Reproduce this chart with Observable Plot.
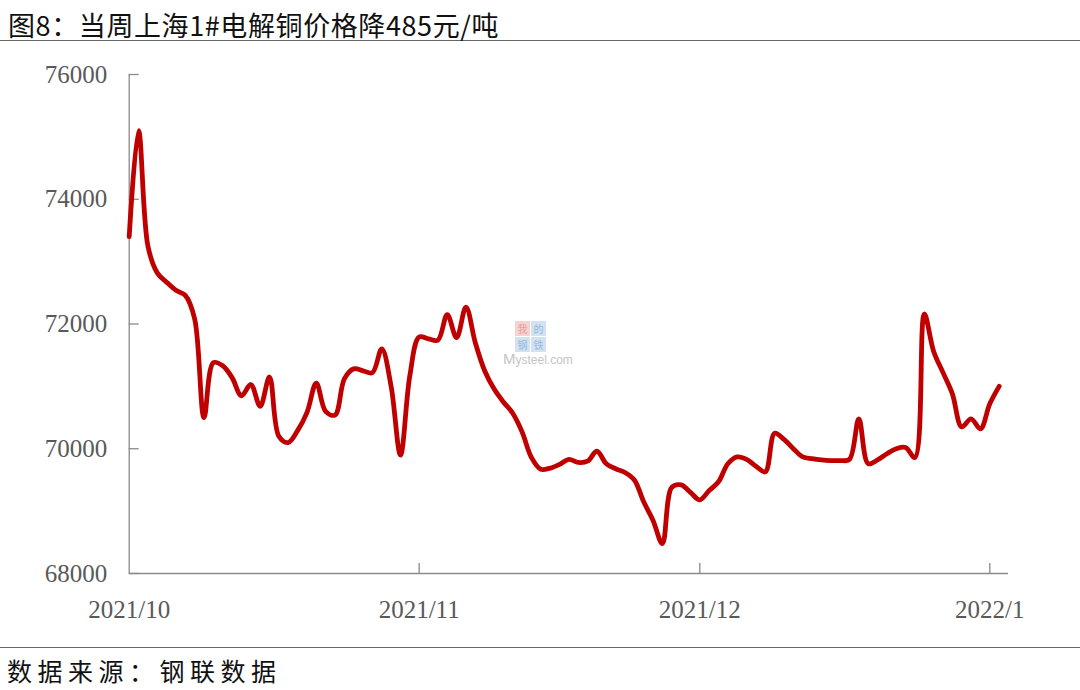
<!DOCTYPE html>
<html>
<head>
<meta charset="utf-8">
<script src="https://cdn.jsdelivr.net/npm/d3@7"></script>
<script src="https://cdn.jsdelivr.net/npm/@observablehq/plot@0.6"></script>
<style>
  html, body { margin: 0; padding: 0; background: #fff; }
  #page { position: relative; width: 1080px; height: 690px; overflow: hidden; background: #fff; }
  #title { position: absolute; left: 0; top: 0; width: 1080px; height: 41px; border-bottom: 1.5px solid #666;
           font-family: "Noto Sans CJK SC", sans-serif; font-size: 27px; line-height: 49px; color: #111;
           padding-left: 8px; box-sizing: border-box; letter-spacing: 0.6px; white-space: nowrap; }
  #chart { position: absolute; left: 0; top: 43px; }
  #footer { position: absolute; left: 0; top: 647px; width: 1080px; height: 43px; border-top: 1.5px solid #666;
            font-family: "Noto Sans CJK SC", sans-serif; font-size: 25px; line-height: 44px; color: #111;
            padding-left: 7px; box-sizing: border-box; letter-spacing: 5.5px; white-space: nowrap; }
  .wm { position: absolute; font-family: "Noto Sans CJK SC", sans-serif; font-size: 10px; line-height: 15px;
        width: 15px; height: 15px; text-align: center; }
  #wmtext { position: absolute; left: 503px; top: 351px; font-family: "Liberation Sans", Arial, sans-serif;
            font-size: 12px; line-height: 15px; color: #c4c4c4; white-space: nowrap; }
</style>
</head>
<body>
<div id="page">
  <div id="title">图8：当周上海1#电解铜价格降485元/吨</div>
  <div id="chart"></div>
  <div class="wm" style="left:515px;top:321px;background:#f6d3d3;color:#ee9a9a;">我</div>
  <div class="wm" style="left:531px;top:321px;background:#d3e2f2;color:#95b8de;">的</div>
  <div class="wm" style="left:515px;top:337px;background:#d3e2f2;color:#95b8de;">钢</div>
  <div class="wm" style="left:531px;top:337px;background:#d3e2f2;color:#95b8de;">铁</div>
  <div id="wmtext"><span style="font-size:15px">M</span>ysteel.com</div>
  <div id="footer">数据来源：钢联数据</div>
</div>
<script>
// ---- data ----
const dates = [
  "2021-10-01","2021-10-02","2021-10-03","2021-10-04","2021-10-05","2021-10-06","2021-10-07","2021-10-08",
  "2021-10-09","2021-10-10","2021-10-11","2021-10-12","2021-10-13","2021-10-14","2021-10-15","2021-10-16",
  "2021-10-17","2021-10-18","2021-10-19","2021-10-20","2021-10-21","2021-10-22","2021-10-23","2021-10-24",
  "2021-10-25","2021-10-26","2021-10-27","2021-10-28","2021-10-29","2021-10-30","2021-10-31",
  "2021-11-01","2021-11-02","2021-11-03","2021-11-04","2021-11-05","2021-11-06","2021-11-07","2021-11-08",
  "2021-11-09","2021-11-10","2021-11-11","2021-11-12","2021-11-13","2021-11-14","2021-11-15","2021-11-16",
  "2021-11-17","2021-11-18","2021-11-19","2021-11-20","2021-11-21","2021-11-22","2021-11-23","2021-11-24",
  "2021-11-25","2021-11-26","2021-11-27","2021-11-28","2021-11-29","2021-11-30",
  "2021-12-01","2021-12-02","2021-12-03","2021-12-04","2021-12-05","2021-12-06","2021-12-07","2021-12-08",
  "2021-12-09","2021-12-10","2021-12-11","2021-12-12","2021-12-13","2021-12-14","2021-12-15","2021-12-16",
  "2021-12-17","2021-12-18","2021-12-19","2021-12-20","2021-12-21","2021-12-22","2021-12-23","2021-12-24",
  "2021-12-25","2021-12-26","2021-12-27","2021-12-28","2021-12-29","2021-12-30","2021-12-31",
  "2022-01-01","2022-01-02"
];
const prices = [
  73400,75100,73250,72820,72670,72540,72460,72080,
  70500,71380,71330,71140,70850,71030,70680,71150,
  70200,70100,70290,70580,71050,70600,70540,71120,
  71280,71250,71220,71600,71000,69900,71170,
  71790,71760,71740,72150,71780,72270,71700,71250,
  70960,70750,70570,70270,69860,69670,69690,69750,
  69830,69780,69800,69960,69760,69680,69620,69500,
  69150,68850,68480,69380,69420,69300,
  69180,69330,69470,69760,69870,69830,69720,69630,
  70250,70150,70000,69870,69840,69820,69810,69810,
  69830,70480,69760,69820,69920,70000,70020,69860,
  72160,71560,71220,70880,70350,70480,70320,
  70720,71000
];
const xDomain = ["2021-10-01", "2022-01-03"];
const xTickLabels = ["2021-10-01", "2021-11-01", "2021-12-01", "2022-01-01"];
const yTicks = [68000, 70000, 72000, 74000, 76000];
const yDomain = [68000, 76000];

// ---- layout ----
const W = 1080, H = 605;
const mL = 128.7, mR = 72, mT = 31, mB = 75;
const plotW = W - mL - mR, plotH = H - mT - mB;
const tickLen = 10;
const axisColor = "#8a8a8a";

const rows = dates.map((d, i) => ({date: new Date(d), price: prices[i]}));
const xTicks = xTickLabels.map(d => new Date(d));
const fmt = d => `${d.getUTCFullYear()}/${d.getUTCMonth() + 1}`;

const chart = Plot.plot({
  width: W, height: H,
  marginLeft: mL, marginRight: mR, marginTop: mT, marginBottom: mB,
  style: {fontFamily: "'Liberation Serif', 'Times New Roman', serif", fontSize: "25px", color: "#595959", background: "#fff", overflow: "visible"},
  x: {type: "utc", domain: xDomain.map(d => new Date(d)), ticks: xTicks, tickFormat: fmt, tickSize: 0, tickPadding: 27, label: null},
  y: {domain: yDomain, ticks: yTicks, tickFormat: d => String(d), tickSize: 0, tickPadding: 22, label: null},
  marks: [
    Plot.ruleX([new Date(xDomain[0])], {stroke: axisColor, strokeWidth: 1.3}),
    Plot.ruleY([yDomain[0]], {stroke: axisColor, strokeWidth: 1.3}),
    Plot.tickY(yTicks, {y: d => d, stroke: axisColor, strokeWidth: 1.3, insetRight: plotW - tickLen}),
    Plot.tickX(xTicks.slice(1), {x: d => d, stroke: axisColor, strokeWidth: 1.3, insetTop: plotH - tickLen}),
    Plot.line(rows, {x: "date", y: "price", stroke: "#C00000", strokeWidth: 4.8, curve: "catmull-rom"})
  ]
});
document.getElementById("chart").appendChild(chart);
</script>
</body>
</html>
